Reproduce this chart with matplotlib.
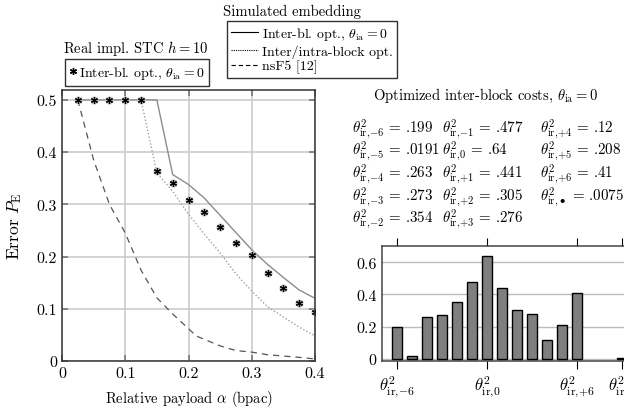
import matplotlib
matplotlib.use('Agg')
import matplotlib.pyplot as plt
from matplotlib.lines import Line2D
from matplotlib.ticker import FuncFormatter

plt.rcParams['font.family'] = ['cmr10', 'DejaVu Serif']
plt.rcParams['mathtext.fontset'] = 'cm'
plt.rcParams['axes.formatter.use_mathtext'] = True
plt.rcParams['font.size'] = 10

# payload grid (bpac)
alpha = [0.025, 0.05, 0.075, 0.1, 0.125, 0.15, 0.175, 0.2, 0.225, 0.25,
         0.275, 0.3, 0.325, 0.35, 0.375, 0.4]

# simulated embedding
inter_bl = [0.5, 0.5, 0.5, 0.5, 0.5, 0.5, 0.357, 0.338, 0.312, 0.279,
            0.246, 0.213, 0.185, 0.160, 0.136, 0.120]
inter_intra = [0.5, 0.5, 0.5, 0.5, 0.5, 0.36, 0.325, 0.281, 0.243, 0.207,
               0.167, 0.134, 0.104, 0.084, 0.065, 0.048]
nsf5_alpha = [0.025, 0.05, 0.075, 0.1, 0.125, 0.15, 0.175, 0.2, 0.212, 0.25,
              0.275, 0.3, 0.325, 0.35, 0.375, 0.4]
nsf5 = [0.5, 0.385, 0.30, 0.245, 0.174, 0.121, 0.090, 0.062, 0.048, 0.029,
        0.020, 0.017, 0.012, 0.0095, 0.007, 0.004]

# real implementation STC h=10
stc = [0.5, 0.5, 0.5, 0.5, 0.5, 0.363, 0.340, 0.309, 0.286, 0.256,
       0.226, 0.203, 0.168, 0.139, 0.112, 0.094]

# optimized inter-block costs
cost_names = ['{-}6', '{-}5', '{-}4', '{-}3', '{-}2', '{-}1', '0', '{+}1',
              '{+}2', '{+}3', '{+}4', '{+}5', '{+}6', r'\bullet']
cost_pos = [-6, -5, -4, -3, -2, -1, 0, 1, 2, 3, 4, 5, 6, 9]
cost_vals = [0.199, 0.0191, 0.263, 0.273, 0.354, 0.477, 0.64, 0.441,
             0.305, 0.276, 0.12, 0.208, 0.41, 0.0075]
cost_text = ['.199', '.0191', '.263', '.273', '.354', '.477', '.64', '.441',
             '.305', '.276', '.12', '.208', '.41', '.0075']


def theta(nm):
    return r'$\theta^2_{\mathrm{ir},\!%s}$' % nm


fig = plt.figure(figsize=(6.24, 4.10), dpi=100)

# ---- left plot: error vs payload
ax = fig.add_axes([62 / 624, 1 - 362 / 410, 253 / 624, 271 / 410])
ax.plot(alpha, inter_bl, color='#8c8c8c', lw=1.0, ls='-')
ax.plot(alpha, inter_intra, color='#a0a0a0', lw=1.0, ls=(0, (1, 1.5)))
ax.plot(nsf5_alpha, nsf5, color='#555555', lw=0.9, ls=(0, (5, 4)))
ax.plot(alpha, stc, ls='none', marker='o', ms=6, mfc='#c8c8c8', mec='none')
ax.plot(alpha, stc, ls='none', marker=(6, 2, 0), ms=5, color='black', mew=0.9)

ax.set_xlim(0, 0.4)
ax.set_ylim(0, 0.519)
ax.set_xticks([0, 0.1, 0.2, 0.3, 0.4])
ax.set_yticks([0, 0.1, 0.2, 0.3, 0.4, 0.5])
fmt = FuncFormatter(lambda v, p: '0' if abs(v) < 1e-9 else '%.1f' % v)
ax.xaxis.set_major_formatter(fmt)
ax.yaxis.set_major_formatter(fmt)
ax.grid(True, color='#cccccc', lw=1.2)
ax.set_axisbelow(True)
ax.tick_params(direction='in', length=4, width=1.2, color='#777777',
               top=True, right=True, labelsize=11.5)
for s in ax.spines.values():
    s.set_color('#333333')
    s.set_linewidth(1.1)
ax.set_xlabel(r'Relative payload $\alpha$ (bpac)', fontsize=10.5, labelpad=6)
ax.set_ylabel(r'Error $P_{\rm E}$', fontsize=12.5, labelpad=9)

# legends with titles above the box
fig.text(136 / 624, 1 - 48 / 410, r'Real impl. STC $h = 10$',
         ha='center', va='center', fontsize=10.5)
h1 = [Line2D([], [], ls='none', marker=(6, 2, 0), ms=5, color='black')]
leg1 = fig.legend(h1, [r'Inter-bl. opt., $\theta_{\rm ia} = 0$'],
                  loc='upper left', bbox_to_anchor=(65 / 624, 1 - 60 / 410),
                  borderaxespad=0, fancybox=False, handlelength=0.4,
                  handletextpad=0.25, borderpad=0.35, fontsize=10)
leg1.get_frame().set_edgecolor('black')
leg1.get_frame().set_linewidth(1.0)

fig.text(292 / 624, 1 - 12 / 410, 'Simulated embedding',
         ha='center', va='center', fontsize=10.5)
h2 = [Line2D([], [], color='black', lw=0.8, ls='-'),
      Line2D([], [], color='black', lw=0.8, ls=(0, (1, 1))),
      Line2D([], [], color='black', lw=0.8, ls=(0, (4, 2.5)))]
leg2 = fig.legend(h2, [r'Inter-bl. opt., $\theta_{\rm ia} = 0$',
                       'Inter/intra-block opt.', 'nsF5 [12]'],
                  loc='upper left', bbox_to_anchor=(227 / 624, 1 - 22 / 410),
                  borderaxespad=0, fancybox=False, handlelength=1.9,
                  handletextpad=0.3, borderpad=0.3, labelspacing=0.15,
                  fontsize=10)
leg2.get_frame().set_edgecolor('black')
leg2.get_frame().set_linewidth(1.0)

# ---- right: table of costs
fig.text(486 / 624, 1 - 96 / 410,
         r'Optimized inter-block costs, $\theta_{\rm ia} = 0$',
         ha='center', va='center', fontsize=10.5)
col_x = [352, 442, 540]
row_y = [129, 151, 174, 197, 219]
for i, (nm, tv) in enumerate(zip(cost_names, cost_text)):
    c, r = divmod(i, 5)
    fig.text(col_x[c] / 624, 1 - row_y[r] / 410, theta(nm) + ' = ' + tv,
             ha='left', va='center', fontsize=10.8)

# ---- right: bar chart
bx = fig.add_axes([382 / 624, 1 - 362 / 410, 255 / 624, 115 / 410])
bx.bar(cost_pos, cost_vals, width=0.67, color='#7f7f7f',
       edgecolor='black', linewidth=1.0, zorder=3)
bx.set_xlim(-7, 10)
bx.set_ylim(-0.012, 0.70)
bx.set_yticks([0, 0.2, 0.4, 0.6])
bx.yaxis.set_major_formatter(fmt)
bx.set_xticks([-6, 0, 6, 9])
bx.set_xticklabels([theta(cost_names[0]), theta(cost_names[6]),
                    theta(cost_names[12]), theta(cost_names[13])])
bx.yaxis.grid(True, color='#bbbbbb', lw=1.0)
bx.set_axisbelow(True)
bx.tick_params(axis='x', direction='out', length=6, width=0.8, top=True,
               labelsize=12, pad=3)
bx.tick_params(axis='y', length=0, labelsize=11.5, pad=4)
for s in bx.spines.values():
    s.set_color('#444444')
    s.set_linewidth(1.1)

fig.savefig('out.png', dpi=100)
